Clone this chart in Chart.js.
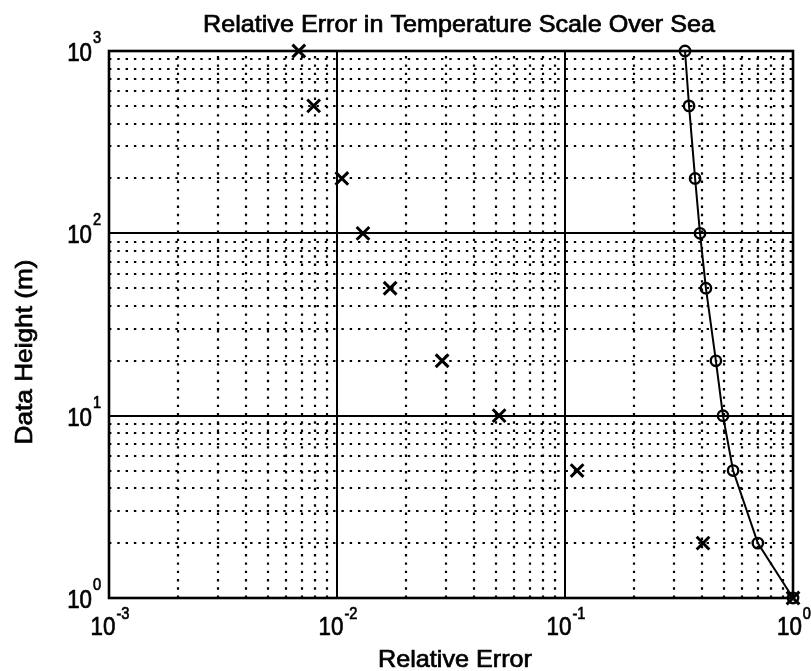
<!DOCTYPE html>
<html>
<head>
<meta charset="utf-8">
<script src="https://cdn.jsdelivr.net/npm/chart.js@4"></script>
<style>
html, body { margin: 0; padding: 0; background: #fff; }
#wrap { width: 811px; height: 671px; position: relative; }
</style>
</head>
<body>
<div id="wrap"><canvas id="errChart"></canvas></div>
<script>
// heights (m) and the two relative error series
var heights = [1000, 500, 200, 100, 50, 20, 10, 5, 2, 1];
var errCircle = [0.336, 0.350, 0.372, 0.391, 0.415, 0.459, 0.493, 0.546, 0.701, 1.0];
var errCross = [0.0068, 0.0079, 0.0105, 0.0130, 0.0171, 0.0289, 0.0514, 0.113, 0.403, 1.0];

// decade tick labels (10^n)
var xTickExps = [-3, -2, -1, 0];
var yTickExps = [0, 1, 2, 3];

var chartTitle = 'Relative Error in Temperature Scale Over Sea';
var xTitle = 'Relative Error';
var yTitle = 'Data Height (m)';

var FONT = '"Liberation Sans", Arial, Helvetica, sans-serif';

function textWidth(ctx, text, size){
    ctx.font = size + 'px ' + FONT;
    return ctx.measureText(text).width;
}

// draws text squeezed horizontally, either to a given width or by a factor
function squeeze(ctx, text, x, y, size, width, align, factor){
    ctx.save();
    ctx.font = size + 'px ' + FONT;
    var w = ctx.measureText(text).width;
    var sx = width ? width / w : (factor || 0.86);
    ctx.translate(x, y);
    ctx.scale(sx, 1);
    ctx.textAlign = align || 'left';
    ctx.textBaseline = 'alphabetic';
    ctx.fillStyle = '#000';
    ctx.strokeStyle = '#000';
    ctx.lineWidth = 0.7;
    ctx.fillText(text, 0, 0);
    ctx.strokeText(text, 0, 0);
    ctx.restore();
    return w * sx;
}

var BASE_SIZE = 26, EXP_SIZE = 17, SQ = 0.86;

function powerWidths(ctx, exp){
    return {
        base: textWidth(ctx, '10', BASE_SIZE) * SQ,
        exp: textWidth(ctx, String(exp), EXP_SIZE) * SQ
    };
}

var gridPlugin = {
    id: 'matlabGrid',
    beforeDatasetsDraw: function(chart){
        var ctx = chart.ctx, a = chart.chartArea;
        var xs = chart.scales.x, ys = chart.scales.y;
        var d, k, p;
        ctx.save();
        ctx.strokeStyle = '#000';
        // dotted minor grid
        ctx.lineWidth = 2.2;
        ctx.setLineDash([2.4, 5.9]);
        for (d = -3; d < 0; d++) {
            for (k = 2; k <= 9; k++) {
                p = Math.round(xs.getPixelForValue(k * Math.pow(10, d)));
                ctx.beginPath();
                ctx.moveTo(p, a.bottom);
                ctx.lineTo(p, a.top);
                ctx.stroke();
            }
        }
        for (d = 0; d < 3; d++) {
            for (k = 2; k <= 9; k++) {
                p = Math.round(ys.getPixelForValue(k * Math.pow(10, d)));
                ctx.beginPath();
                ctx.moveTo(a.left, p);
                ctx.lineTo(a.right, p);
                ctx.stroke();
            }
        }
        // solid decade lines
        ctx.setLineDash([]);
        ctx.lineWidth = 2;
        [0.01, 0.1].forEach(function(v){
            p = Math.round(xs.getPixelForValue(v));
            ctx.beginPath(); ctx.moveTo(p, a.top); ctx.lineTo(p, a.bottom); ctx.stroke();
        });
        [10, 100].forEach(function(v){
            p = Math.round(ys.getPixelForValue(v));
            ctx.beginPath(); ctx.moveTo(a.left, p); ctx.lineTo(a.right, p); ctx.stroke();
        });
        // axes box
        ctx.lineWidth = 2.6;
        ctx.strokeRect(a.left, a.top, a.right - a.left, a.bottom - a.top);
        ctx.restore();
    },
    afterDraw: function(chart){
        var ctx = chart.ctx, a = chart.chartArea;
        var xs = chart.scales.x, ys = chart.scales.y;

        yTickExps.forEach(function(e){
            var py = ys.getPixelForValue(Math.pow(10, e));
            var w = powerWidths(ctx, e);
            squeeze(ctx, '10', 92 - w.base, py + 10, BASE_SIZE, 0, 'left', SQ);
            squeeze(ctx, String(e), 93, py - 8, EXP_SIZE, 0, 'left', SQ);
        });

        xTickExps.forEach(function(e){
            var px = xs.getPixelForValue(Math.pow(10, e));
            var w = powerWidths(ctx, e);
            var left = px + 1 - (w.base + 1 + w.exp) / 2;
            squeeze(ctx, '10', left, a.bottom + 37, BASE_SIZE, 0, 'left', SQ);
            squeeze(ctx, String(e), left + w.base + 1, a.bottom + 21, EXP_SIZE, 0, 'left', SQ);
        });

        squeeze(ctx, chartTitle, 459, 32, 24, 512, 'center');
        squeeze(ctx, xTitle, 455, 667, 24, 154, 'center');

        ctx.save();
        ctx.translate(32, 352);
        ctx.rotate(-Math.PI / 2);
        squeeze(ctx, yTitle, 0, 0, 24, 185, 'center');
        ctx.restore();
    }
};

var errCanvas = document.getElementById('errChart');
var errChart = new Chart(errCanvas, {
    type: 'line',
    data: {
        datasets: [{
            label: 'o',
            data: heights.map(function(h, i){ return {x: errCircle[i], y: h}; }),
            borderColor: '#000',
            borderWidth: 2,
            pointStyle: 'circle',
            pointRadius: 5.2,
            pointBorderWidth: 2.4,
            pointBorderColor: '#000',
            pointBackgroundColor: 'rgba(0,0,0,0)',
            tension: 0,
            clip: false
        }, {
            label: 'x',
            data: heights.map(function(h, i){ return {x: errCross[i], y: h}; }),
            showLine: false,
            pointStyle: 'crossRot',
            pointRadius: 9,
            pointBorderWidth: 3,
            pointBorderColor: '#000',
            clip: false
        }]
    },
    options: {
        responsive: true,
        maintainAspectRatio: false,
        animation: false,
        devicePixelRatio: 1,
        layout: { padding: { left: 109, right: 18, top: 51, bottom: 73 } },
        plugins: {
            legend: { display: false },
            tooltip: { enabled: false }
        },
        scales: {
            x: { type: 'logarithmic', min: 0.001, max: 1, display: false },
            y: { type: 'logarithmic', min: 1, max: 1000, display: false }
        }
    },
    plugins: [gridPlugin]
});
</script>
</body>
</html>
